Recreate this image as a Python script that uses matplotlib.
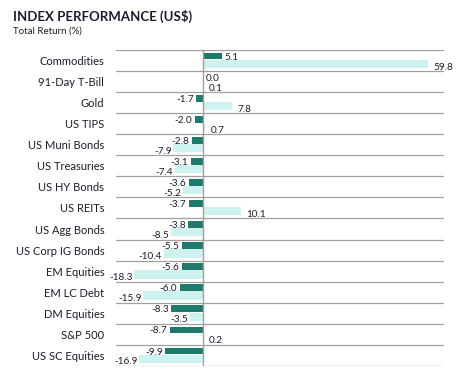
import matplotlib.pyplot as plt
import numpy as np

plt.rcParams['font.family'] = ['Lato', 'DejaVu Sans']

# index names, top to bottom
names = ['Commodities', '91-Day T-Bill', 'Gold', 'US TIPS', 'US Muni Bonds',
         'US Treasuries', 'US HY Bonds', 'US REITs', 'US Agg Bonds',
         'US Corp IG Bonds', 'EM Equities', 'EM LC Debt', 'DM Equities',
         'S&P 500', 'US SC Equities']
# dark bars (recent period) and light bars (trailing period)
recent = [5.1, 0.0, -1.7, -2.0, -2.8, -3.1, -3.6, -3.7, -3.8, -5.5, -5.6,
          -6.0, -8.3, -8.7, -9.9]
trailing = [59.8, 0.1, 7.8, 0.7, -7.9, -7.4, -5.2, 10.1, -8.5, -10.4, -18.3,
            -15.9, -3.5, 0.2, -16.9]

dark = '#1f7a6e'
light = '#cdf2ef'
txt = '#1c1c2c'
grid = '#a0a0a0'

fig = plt.figure(figsize=(4.72, 3.73), dpi=100)
ax = fig.add_axes([0.2458, 0.019, 0.695, 0.847])

y = np.arange(len(names))
yd = y - 0.21
yl = y + 0.16
ax.barh(yd, recent, height=0.32, color=dark)
ax.barh(yl, trailing, height=0.39, color=light)

for yy, v in zip(yd, recent):
    ha = 'left' if v >= 0 else 'right'
    off = 2 if v >= 0 else -2
    ax.annotate(f'{v:.1f}', (v, yy + 0.05), xytext=(off, 0),
                textcoords='offset points', ha=ha, va='center',
                fontsize=7.2, color=txt)
for yy, v in zip(yl, trailing):
    ha = 'left' if v >= 0 else 'right'
    off = 4 if v >= 0 else -1
    ax.annotate(f'{v:.1f}', (v, yy + 0.15), xytext=(off, 0),
                textcoords='offset points', ha=ha, va='center',
                fontsize=7.2, color=txt)

for b in np.arange(-0.5, len(names), 1.0):
    ax.axhline(b, color=grid, lw=0.9)
ax.axvline(0, color=grid, lw=1.0)

ax.set_xlim(-23.0, 64.0)
ax.set_ylim(len(names) - 0.5, -0.5)
ax.set_yticks(y)
ax.set_yticklabels(names, fontsize=8, color=txt)
ax.tick_params(axis='y', length=0, pad=8.5)
ax.set_xticks([])
for s in ax.spines.values():
    s.set_visible(False)

fig.text(0.028, 0.955, 'INDEX PERFORMANCE (US$)', fontsize=9.5,
         fontweight='bold', color=txt, va='center')
fig.text(0.028, 0.918, 'Total Return (%)', fontsize=7, color=txt, va='center')

fig.savefig('out.png', dpi=100)
